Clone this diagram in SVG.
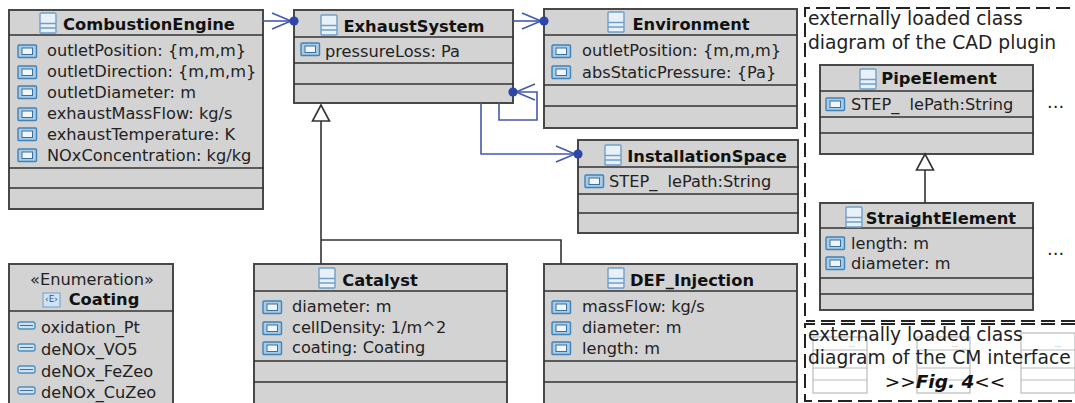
<svg xmlns="http://www.w3.org/2000/svg" width="1075" height="403" viewBox="0 0 1075 403">
<style>
text{font-family:"DejaVu Sans","Liberation Sans",sans-serif;fill:#222}
.a{font-size:16.200px}
.t{font-size:16.300px;font-weight:700;fill:#111;text-anchor:middle}
.b{fill:#d3d3d3;stroke:#484848;stroke-width:2}
.l{stroke:#333;stroke-width:1.6;fill:none}
.as{fill:none;stroke:#4558b0;stroke-width:1.6}
.ge{fill:none;stroke:#333;stroke-width:1.6}
.d{fill:none;stroke:#222;stroke-width:2;stroke-dasharray:14 6}
.n{font-size:18.700px;fill:#222}
.f{fill:#fff;stroke:#bbb;stroke-width:1.2}
</style>
<defs>
<g id="ci"><rect x="0" y="0" width="16" height="20" rx="1" fill="#e8f0f8" stroke="#6f9fca" stroke-width="1.4"/><path d="M0 10.500H16M0 15H16" stroke="#6f9fca" stroke-width="1.4"/></g>
<g id="ai"><rect x="0" y="1" width="18.500" height="12.500" rx="1" fill="#a8cbe6" stroke="#3f83b8" stroke-width="1.4"/><rect x="4" y="4" width="10.500" height="6.500" fill="#eef5fb" stroke="#3f6f98" stroke-width="1"/></g>
<g id="ei"><rect x="0" y="0" width="17" height="7" rx="2" fill="#cfe2f2" stroke="#4f8fc0" stroke-width="1.4"/><path d="M2 3.500H15" stroke="#3f6f98"/></g>
<marker id="h" markerUnits="userSpaceOnUse" markerWidth="34" markerHeight="24" refX="26" refY="12" orient="auto" viewBox="0 0 34 24"><path d="M4 4L23 12L4 20" fill="none" stroke="#4558b0" stroke-width="1.6"/><circle cx="26" cy="12" r="4.600" fill="#2c47a8"/></marker>
</defs>

<g id="CombustionEngine">
<rect class="b" x="9" y="10" width="254" height="199"/>
<path class="l" d="M9 35H263M9 168H264M9 188H264"/>
<use href="#ci" x="40" y="13"/>
<text class="t" x="149" y="30">CombustionEngine</text>
<use href="#ai" x="18" y="44"/><text class="a" x="47" y="56">outletPosition: {m,m,m}</text>
<use href="#ai" x="18" y="65"/><text class="a" x="47" y="77">outletDirection: {m,m,m}</text>
<use href="#ai" x="18" y="85"/><text class="a" x="47" y="98">outletDiameter: m</text>
<use href="#ai" x="18" y="107"/><text class="a" x="47" y="119">exhaustMassFlow: kg/s</text>
<use href="#ai" x="18" y="127"/><text class="a" x="47" y="140">exhaustTemperature: K</text>
<use href="#ai" x="18" y="148"/><text class="a" x="47" y="161">NOxConcentration: kg/kg</text>
</g>

<g id="ExhaustSystem">
<rect class="b" x="294" y="10" width="219" height="93"/>
<path class="l" d="M294 37H514M294 63H514M294 84H514"/>
<use href="#ci" x="321" y="15"/>
<text class="t" x="414" y="32">ExhaustSystem</text>
<use href="#ai" x="301" y="42"/><text class="a" x="325" y="57">pressureLoss: Pa</text>
</g>

<g id="Environment">
<rect class="b" x="544" y="9" width="253" height="119"/>
<path class="l" d="M544 35H797M544 85H797M544 106H797"/>
<use href="#ci" x="608" y="12"/>
<text class="t" x="691" y="30">Environment</text>
<use href="#ai" x="552" y="44"/><text class="a" x="582" y="56">outletPosition: {m,m,m}</text>
<use href="#ai" x="552" y="65"/><text class="a" x="582" y="78">absStaticPressure: {Pa}</text>
</g>

<g id="InstallationSpace">
<rect class="b" x="578" y="140" width="220" height="93"/>
<path class="l" d="M578 167H799M578 194H799M578 213H799"/>
<use href="#ci" x="605" y="145"/>
<text class="t" x="707" y="162">InstallationSpace</text>
<use href="#ai" x="585" y="174"/><text class="a" x="609" y="187" xml:space="preserve">STEP_  lePath:String</text>
</g>

<g id="Coating">
<path class="b" d="M9 403V264H173V403"/>
<path class="l" d="M9 311H174"/>
<text class="a" x="92" y="285" text-anchor="middle">«Enumeration»</text>
<rect x="43" y="293" width="17" height="14" fill="#cfe2f2" stroke="#6f9fca"/>
<text x="51.500" y="302" font-size="9" text-anchor="middle" style="fill:#334a9a">‹E›</text>
<text class="t" x="104" y="305">Coating</text>
<use href="#ei" x="18" y="322"/><text class="a" x="41" y="333">oxidation_Pt</text>
<use href="#ei" x="18" y="344"/><text class="a" x="41" y="355">deNOx_VO5</text>
<use href="#ei" x="18" y="366"/><text class="a" x="41" y="377">deNOx_FeZeo</text>
<use href="#ei" x="18" y="387"/><text class="a" x="41" y="398">deNOx_CuZeo</text>
</g>

<g id="Catalyst">
<path class="b" d="M254 403V264H507V403"/>
<path class="l" d="M254 291H507M254 361H507M254 382H507"/>
<use href="#ci" x="319" y="268"/>
<text class="t" x="380" y="286">Catalyst</text>
<use href="#ai" x="263" y="300"/><text class="a" x="292" y="312">diameter: m</text>
<use href="#ai" x="263" y="321"/><text class="a" x="292" y="333">cellDensity: 1/m^2</text>
<use href="#ai" x="263" y="341"/><text class="a" x="292" y="353">coating: Coating</text>
</g>

<g id="DEF_Injection">
<path class="b" d="M544 403V264H797V403"/>
<path class="l" d="M544 291H797M544 361H797M544 382H797"/>
<use href="#ci" x="608" y="268"/>
<text class="t" x="692" y="286">DEF_Injection</text>
<use href="#ai" x="552" y="300"/><text class="a" x="582" y="312">massFlow: kg/s</text>
<use href="#ai" x="552" y="321"/><text class="a" x="582" y="333">diameter: m</text>
<use href="#ai" x="552" y="341"/><text class="a" x="582" y="354">length: m</text>
</g>

<g id="CADPlugin">
<path class="d" d="M1070 8H805V316"/>
<text class="n" x="808" y="25">externally loaded class</text>
<text class="n" x="808" y="49">diagram of the CAD plugin</text>
<text x="1047" y="108" font-size="18">...</text>
<text x="1047" y="255" font-size="18">...</text>
</g>

<g id="PipeElement">
<rect class="b" x="820" y="65" width="213" height="89"/>
<path class="l" d="M820 91H1034M820 117H1034M820 133H1034"/>
<use href="#ci" x="860" y="69"/>
<text class="t" x="939" y="84">PipeElement</text>
<use href="#ai" x="826" y="97"/><text class="a" x="851" y="110" xml:space="preserve">STEP_  lePath:String</text>
</g>

<g id="StraightElement">
<rect class="b" x="820" y="203" width="213" height="107"/>
<path class="l" d="M820 228H1034M820 278H1034M820 294H1034"/>
<use href="#ci" x="846" y="207"/>
<text class="t" x="941" y="224">StraightElement</text>
<use href="#ai" x="826" y="236"/><text class="a" x="851" y="249">length: m</text>
<use href="#ai" x="826" y="256"/><text class="a" x="851" y="269">diameter: m</text>
</g>

<g id="CMInterface">
<path class="d" d="M1075 321H806"/>
<path class="d" d="M1075 324H805V401H1075"/>
<g id="FadedClass1"><rect class="f" x="813" y="337" width="54" height="56"/><path class="f" d="M813 350H867M813 368H867M813 380H867"/><text x="852" y="347" font-size="7" text-anchor="middle" style="fill:#999">...</text></g>
<g id="FadedClass2"><rect class="f" x="917" y="337" width="53" height="56"/><path class="f" d="M917 350H970M917 368H970M917 380H970"/><text x="955" y="347" font-size="7" text-anchor="middle" style="fill:#999">...</text></g>
<g id="FadedClass3"><rect class="f" x="1021" y="333" width="54" height="60"/><path class="f" d="M1021 350H1075M1021 368H1075M1021 380H1075"/><text x="1058" y="347" font-size="7" text-anchor="middle" style="fill:#999">...</text></g>
<text class="n" x="808" y="340.500">externally loaded class</text>
<text class="n" x="808" y="363.500">diagram of the CM interface</text>
<text x="945" y="388" font-size="18.500" text-anchor="middle" style="fill:#111">&gt;&gt;<tspan font-weight="700" font-style="italic">Fig. 4</tspan>&lt;&lt;</text>
</g>

<g id="connectors">
<path class="as" marker-end="url(#h)" d="M263 21H294"/>
<path class="as" marker-end="url(#h)" d="M513 21H544"/>
<path class="as" d="M499 103V120H537V92H513" marker-end="url(#h)"/>
<path class="as" d="M481 103V154H578" marker-end="url(#h)"/>
<path class="ge" d="M321 264V121"/>
<path class="ge" d="M321 240H561V264"/>
<path d="M321 105L312.500 121H329.500Z" fill="#fff" stroke="#333" stroke-width="1.600"/>
<path class="ge" d="M925 203V170"/>
<path d="M925 154L916.500 170H933.500Z" fill="#fff" stroke="#333" stroke-width="1.600"/>
</g>
</svg>
